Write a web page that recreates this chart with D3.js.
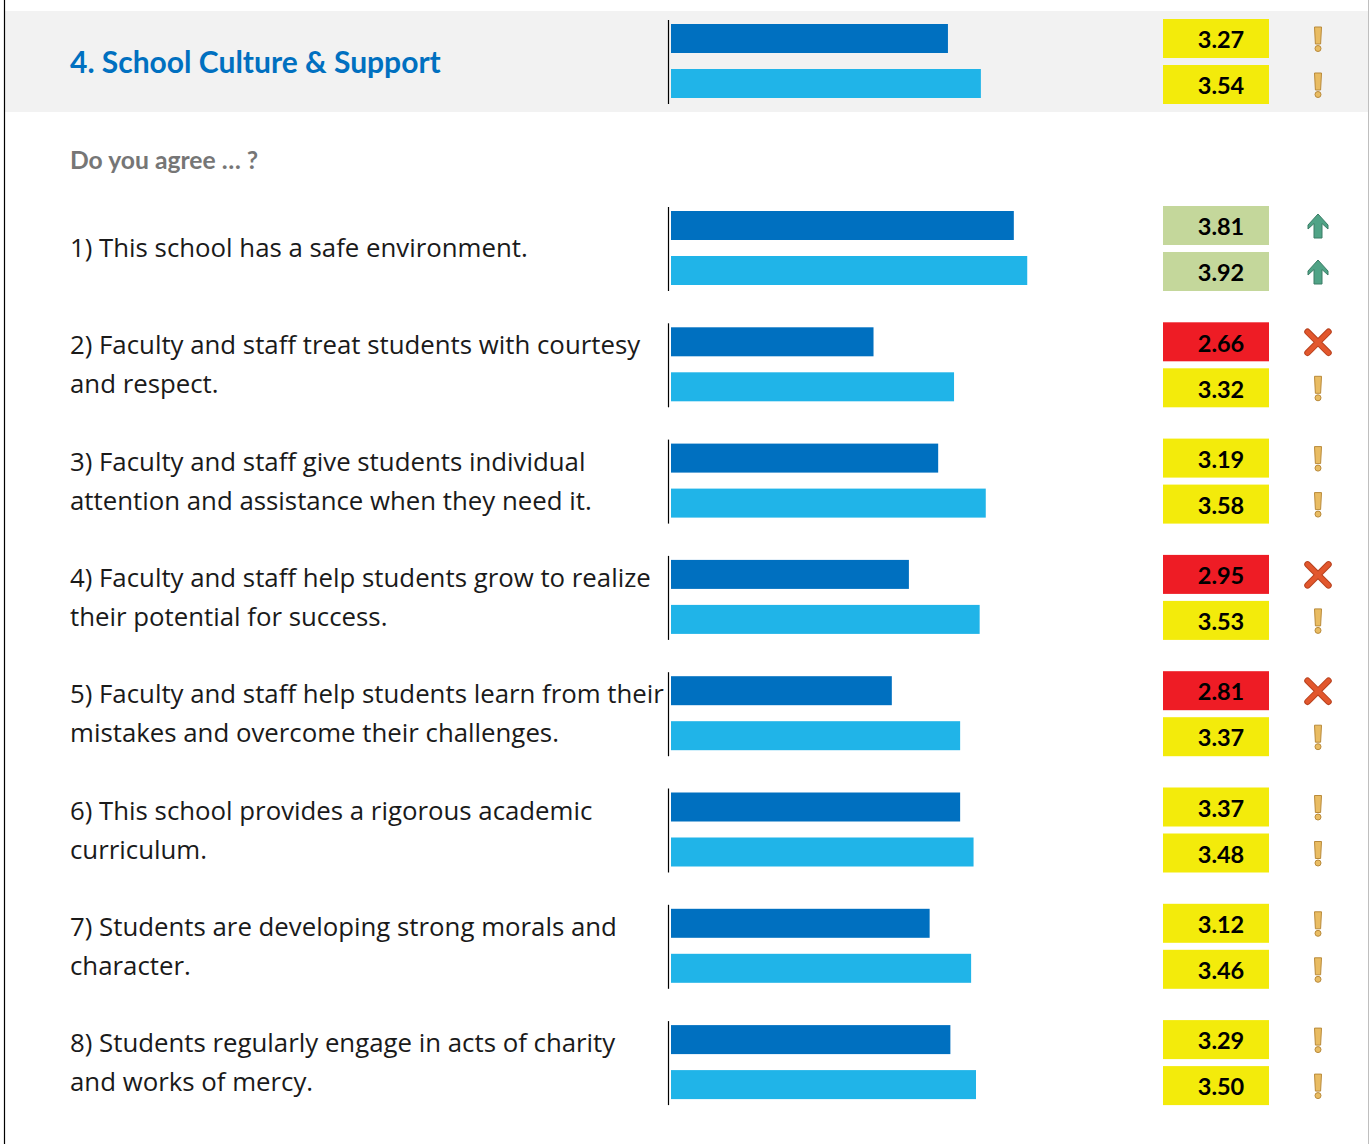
<!DOCTYPE html>
<html>
<head>
<meta charset="utf-8">
<script src="https://cdn.jsdelivr.net/npm/d3@7"></script>
<style>
  html, body { margin: 0; padding: 0; background: #fff; }
  svg { display: block; }
</style>
</head>
<body>
<svg id="chart" width="1370" height="1144"></svg>
<script>
// Section heading and prompt
const sectionTitle = "4. School Culture & Support";
const prompt = "Do you agree \u2026 ?";

// Survey items (each entry is the wrapped lines of one question)
const questions = [
  ["1) This school has a safe environment."],
  ["2) Faculty and staff treat students with courtesy", "and respect."],
  ["3) Faculty and staff give students individual", "attention and assistance when they need it."],
  ["4) Faculty and staff help students grow to realize", "their potential for success."],
  ["5) Faculty and staff help students learn from their", "mistakes and overcome their challenges."],
  ["6) This school provides a rigorous academic", "curriculum."],
  ["7) Students are developing strong morals and", "character."],
  ["8) Students regularly engage in acts of charity", "and works of mercy."]
];

// Mean scores (1–4 scale): school, then comparison group
const sectionSchool = 3.27;
const sectionComparison = 3.54;
const schoolScores = [3.81, 2.66, 3.19, 2.95, 2.81, 3.37, 3.12, 3.29];
const comparisonScores = [3.92, 3.32, 3.58, 3.53, 3.37, 3.48, 3.46, 3.50];

const svg = d3.select("#chart");
const W = 1370, H = 1144;

const colors = {
  school: "#0070C0",
  comparison: "#20B4E8",
  band: "#F2F2F2",
  title: "#0070C0",
  prompt: "#767676",
  text: "#1a1a1a"
};

// Rating band for a score: low, mid, high
const rating = d3.scaleThreshold().domain([3.0, 3.7]).range(["low", "mid", "high"]);
const boxFill = { low: "#EE1C25", mid: "#F3EB0B", high: "#C4D79B" };

// Scales
const x = d3.scaleLinear().domain([1, 4]).range([671, 1037]);
const yQ = d3.scalePoint().domain(d3.range(questions.length)).range([248, 248 + 7 * 116.3]);
const headerCenter = 61;

// Frame: left rule, right rule and the heading band
svg.append("rect").attr("x", 5).attr("y", 11).attr("width", 1363).attr("height", 101).attr("fill", colors.band);
svg.append("line").attr("x1", 4.5).attr("x2", 4.5).attr("y1", 0).attr("y2", H).attr("stroke", "#000").attr("stroke-width", 1.2);
svg.append("line").attr("x1", 1368.5).attr("x2", 1368.5).attr("y1", 0).attr("y2", H).attr("stroke", "#bfbfbf").attr("stroke-width", 1);

svg.append("text")
  .attr("x", 70).attr("y", 73)
  .attr("font-family", "Lato, 'Open Sans', sans-serif")
  .attr("font-weight", 700).attr("font-size", 30)
  .attr("fill", colors.title)
  .text(sectionTitle);

svg.append("text")
  .attr("x", 70).attr("y", 169)
  .attr("font-family", "Lato, 'Open Sans', sans-serif")
  .attr("font-weight", 700).attr("font-size", 24.7)
  .attr("fill", colors.prompt)
  .text(prompt);

// Icons
function drawIcon(g, kind, cx, cy) {
  const ig = g.append("g").attr("transform", `translate(${cx},${cy})`);
  if (kind === "mid") {
    ig.append("path")
      .attr("d", "M-3.5,-12 L3.5,-12 L2.6,5 L-2.6,5 Z")
      .attr("fill", "#E9BC62").attr("stroke", "#B98A3A").attr("stroke-width", 1);
    ig.append("circle").attr("cx", 0).attr("cy", 9.5).attr("r", 3)
      .attr("fill", "#E9BC62").attr("stroke", "#B98A3A").attr("stroke-width", 1);
  } else if (kind === "high") {
    ig.append("path")
      .attr("d", "M0,-12 L10,-1 L10,3 L4,-2.5 L4,12 L-4,12 L-4,-2.5 L-10,3 L-10,-1 Z")
      .attr("fill", "#50A386").attr("stroke", "#3A7D66").attr("stroke-width", 1);
  } else {
    ig.append("path")
      .attr("d", "M-10.5,-10.5 L10.5,10.5 M10.5,-10.5 L-10.5,10.5")
      .attr("stroke", "#B8421F").attr("stroke-width", 6.5).attr("stroke-linecap", "round");
    ig.append("path")
      .attr("d", "M-10.5,-10.5 L10.5,10.5 M10.5,-10.5 L-10.5,10.5")
      .attr("stroke", "#E2572D").attr("stroke-width", 4.5).attr("stroke-linecap", "round");
  }
}

// One block: axis rule, two bars, two score boxes and two icons
function drawBlock(center, values) {
  const g = svg.append("g");
  g.append("line")
    .attr("x1", 668.5).attr("x2", 668.5)
    .attr("y1", center - 41).attr("y2", center + 43)
    .attr("stroke", "#000").attr("stroke-width", 1.2);

  const rows = [
    { v: values[0], color: colors.school, barY: center - 37, boxY: center - 42 },
    { v: values[1], color: colors.comparison, barY: center + 8, boxY: center + 4 }
  ];

  rows.forEach(r => {
    g.append("rect")
      .attr("x", x(1)).attr("y", r.barY)
      .attr("width", x(r.v) - x(1)).attr("height", 29)
      .attr("fill", r.color);

    const rt = rating(r.v);
    g.append("rect")
      .attr("x", 1163).attr("y", r.boxY)
      .attr("width", 106).attr("height", 39)
      .attr("fill", boxFill[rt]);
    g.append("text")
      .attr("x", 1221).attr("y", r.boxY + 21)
      .attr("dy", "0.35em")
      .attr("text-anchor", "middle")
      .attr("font-family", "Lato, 'Open Sans', sans-serif")
      .attr("font-weight", 700).attr("font-size", 23.5)
      .attr("fill", "#000")
      .text(d3.format(".2f")(r.v));

    drawIcon(g, rt, 1318, r.boxY + 20);
  });
}

drawBlock(headerCenter, [sectionSchool, sectionComparison]);

questions.forEach((lines, i) => {
  const c = yQ(i);
  const t = svg.append("text")
    .attr("font-family", "'Open Sans', sans-serif")
    .attr("font-size", 25.8)
    .attr("fill", colors.text);
  const first = lines.length === 1 ? c + 9 : c - 10;
  lines.forEach((ln, j) => {
    t.append("tspan").attr("x", 70).attr("y", first + j * 39).text(ln);
  });
  drawBlock(c, [schoolScores[i], comparisonScores[i]]);
});
</script>
</body>
</html>
